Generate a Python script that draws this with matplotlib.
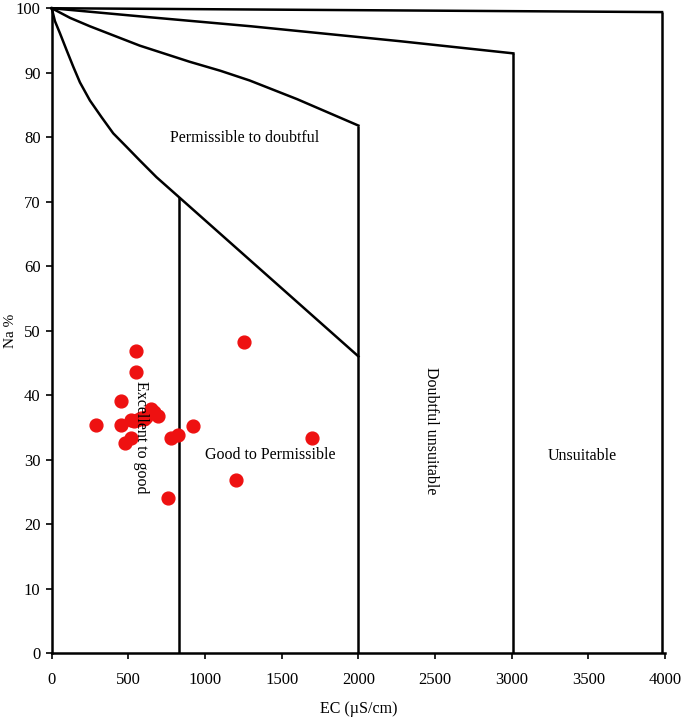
import matplotlib
matplotlib.use('Agg')
import matplotlib.pyplot as plt

plt.rcParams['font.family'] = ['Liberation Serif', 'DejaVu Serif']

# Wilcox boundary curves (EC, Na%)
c1_ec = [0, 21, 54, 97, 141, 184, 249, 325, 401, 488, 574, 683, 830, 2000]
c1_na = [100, 98.0, 96.1, 93.5, 90.9, 88.5, 85.7, 83.1, 80.6, 78.5, 76.4, 73.8, 70.7, 46.0]
c2_ec = [0, 120, 249, 574, 899, 1100, 1290, 1600, 2000]
c2_na = [100, 98.5, 97.2, 94.2, 91.7, 90.3, 88.8, 85.9, 81.8]
c3_ec = [0, 640, 1300, 2266, 3010]
c3_na = [100, 98.6, 97.2, 94.9, 93.0]
c4_ec = [0, 3980]
c4_na = [100, 99.4]
# vertical boundaries: (EC, top Na%)
v_ec = [830, 2000, 3010, 3980]
v_top = [70.7, 81.8, 93.0, 99.4]

# samples
ec = [288, 449, 449, 481, 520, 548, 548, 520, 553, 585, 618, 650, 665, 693,
      780, 824, 758, 921, 1257, 1199, 1698, 535, 600]
na = [35.3, 39.1, 35.4, 32.5, 33.4, 46.8, 43.6, 36.2, 36.1, 36.4, 36.6, 37.8,
      37.3, 36.8, 33.4, 33.8, 24.1, 35.2, 48.3, 26.8, 33.3, 36.0, 36.3]

fig = plt.figure(figsize=(6.85, 7.22), dpi=100)
ax = fig.add_axes([0.0755, 0.0956, 0.8955, 0.893])

lw = 1.8
for xs, ys in [(c1_ec, c1_na), (c2_ec, c2_na), (c3_ec, c3_na), (c4_ec, c4_na)]:
    ax.plot(xs, ys, color='black', lw=lw, clip_on=False, solid_joinstyle='round')
for x, t in zip(v_ec, v_top):
    ax.plot([x, x], [0, t], color='black', lw=lw, clip_on=False, solid_capstyle='butt')

ax.scatter(ec, na, s=85, color='#ee1111', edgecolors='#ee1111', zorder=3)

fs = 11.5
ax.text(1256, 79.8, 'Permissible to doubtful', ha='center', va='center', fontsize=fs)
ax.text(1423, 30.7, 'Good to Permissible', ha='center', va='center', fontsize=fs)
ax.text(585, 33.4, 'Excellent to good', ha='center', va='center', fontsize=fs, rotation=270)
ax.text(2473, 34.4, 'Doubtful unsuitable', ha='center', va='center', fontsize=fs, rotation=270)
ax.text(3462, 30.5, 'Unsuitable', ha='center', va='center', fontsize=fs)

ax.set_xlim(0, 4000)
ax.set_ylim(0, 100)
ax.set_xticks(range(0, 4001, 500))
ax.set_yticks(range(0, 101, 10))
for s in ['top', 'right']:
    ax.spines[s].set_visible(False)
for s in ['left', 'bottom']:
    ax.spines[s].set_linewidth(1.8)
ax.tick_params(labelsize=12, width=1.2, length=4)
ax.tick_params(axis='x', pad=10)
ax.tick_params(axis='y', pad=4)
ax.set_xlabel('EC (µS/cm)', fontsize=fs)
ax.xaxis.set_label_coords(0.5, -0.075)
ax.set_ylabel('Na %', fontsize=11)
ax.yaxis.set_label_coords(-0.057, 0.5)

fig.savefig('out.png', dpi=100)
